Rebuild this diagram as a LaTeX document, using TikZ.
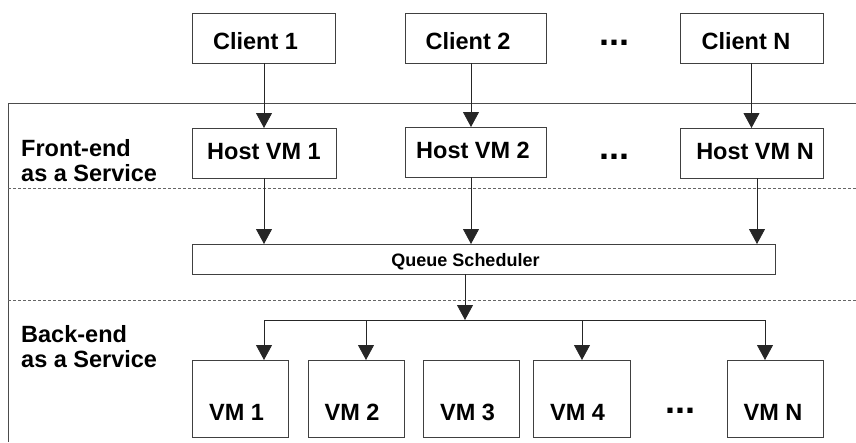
\documentclass[tikz,border=0pt]{standalone}
\usepackage{fontspec}
\setmainfont{Liberation Sans}
\usetikzlibrary{arrows.meta}
\begin{document}
\begin{tikzpicture}[x=1pt,y=-1pt,
  box/.style={draw=black!75, line width=0.9pt, inner sep=0pt, outer sep=0pt,
    font=\fontsize{23.5}{24}\selectfont\bfseries, align=center},
  arr/.style={draw=black!85, line width=0.8pt, arrows={-Triangle[width=16pt,length=15pt]}},
  wire/.style={draw=black!85, line width=0.8pt},
  frame/.style={draw=black!70, line width=0.9pt},
  sep/.style={draw=black!60, line width=0.8pt, dash pattern=on 3pt off 2pt},
  lbl/.style={font=\fontsize{23.5}{24.5}\selectfont\bfseries, align=left, anchor=base west, inner sep=0pt},
  dots/.style={font=\fontsize{36}{36}\selectfont\bfseries, anchor=base, inner sep=0pt}]
\useasboundingbox (0,0) rectangle (856,442);

% frame and separators
\coordinate (ftl) at (8,103);
\coordinate (ftr) at (856,103);
\coordinate (fbl) at (8,442);
\draw[frame] (ftr) -- (ftl) -- (fbl);
\coordinate (s1l) at (8,188);
\coordinate (s1r) at (856,188);
\coordinate (s2l) at (8,300);
\coordinate (s2r) at (856,300);
\draw[sep] (s1l) -- (s1r);
\draw[sep] (s2l) -- (s2r);

% clients
\node[box, minimum width=143pt, minimum height=50pt, text height=22pt, text depth=0pt] (c1) at (264,38) {Client 1\hspace*{17pt}};
\node[box, minimum width=141pt, minimum height=50pt, text height=22pt, text depth=0pt] (c2) at (475.5,38) {Client 2\hspace*{15pt}};
\node[box, minimum width=143pt, minimum height=50pt, text height=22pt, text depth=0pt] (cN) at (751.5,38) {Client N\hspace*{11pt}};
\node[dots] (d1) at (614,45) {...};

% hosts
\node[box, minimum width=144pt, minimum height=50pt, text height=17pt, text depth=5pt] (h1) at (264,153) {Host VM 1};
\node[box, minimum width=141pt, minimum height=50pt, text height=17pt, text depth=5pt] (h2) at (475.5,152) {Host VM 2\hspace*{5pt}};
\node[box, minimum width=143pt, minimum height=50pt, text height=17pt, text depth=5pt] (hN) at (751.5,153) {\hspace*{7pt}Host VM N};
\node[dots] (d2) at (614,159) {...};

% labels (anchor base = baseline of last line)
\node[lbl] (fe) at (21,181) {Front-end\\as a Service};
\node[lbl] (be) at (21,367) {Back-end\\as a Service};

% queue
\node[box, minimum width=583pt, minimum height=30pt, text height=14pt, text depth=0pt,
  font=\fontsize{18}{18}\selectfont\bfseries] (q) at (483.5,259) {Queue Scheduler\hspace*{36pt}};

% VMs
\node[box, minimum width=96pt, minimum height=77pt, text height=43pt, text depth=0pt] (v1) at (240,398.5) {VM 1\hspace*{7pt}};
\node[box, minimum width=96pt, minimum height=77pt, text height=43pt, text depth=0pt] (v2) at (356,398.5) {VM 2\hspace*{8pt}};
\node[box, minimum width=96pt, minimum height=77pt, text height=43pt, text depth=0pt] (v3) at (471,398.5) {VM 3\hspace*{7pt}};
\node[box, minimum width=97pt, minimum height=77pt, text height=43pt, text depth=0pt] (v4) at (581.5,398.5) {VM 4\hspace*{8pt}};
\node[box, minimum width=96pt, minimum height=77pt, text height=43pt, text depth=0pt] (vN) at (775,398.5) {VM N\hspace*{4pt}};
\node[dots] (d3) at (680,413) {...};

% client -> host
\draw[arr] (c1.south) -- (c1.south |- h1.north);
\draw[arr] ([xshift=-4.5pt]c2.south) -- ([xshift=-4.5pt]c2.south |- h2.north);
\draw[arr] (cN.south) -- (cN.south |- hN.north);

% host -> queue
\draw[arr] (h1.south) -- (h1.south |- q.north);
\draw[arr] ([xshift=-4.5pt]h2.south) -- ([xshift=-4.5pt]h2.south |- q.north);
\draw[arr] ([xshift=5.5pt]hN.south) -- ([xshift=5.5pt]hN.south |- q.north);

% queue -> branch
\coordinate (br) at (465,320);
\coordinate (b1) at (264,320);
\coordinate (b2) at (366,320);
\coordinate (b4) at (582,320);
\coordinate (bN) at (765,320);
\draw[arr] (br |- q.south) -- (br);
\draw[wire] (b1) -- (bN);
\draw[arr] (b1) -- (b1 |- v1.north);
\draw[arr] (b2) -- (b2 |- v2.north);
\draw[arr] (b4) -- (b4 |- v4.north);
\draw[arr] (bN) -- (bN |- vN.north);
\end{tikzpicture}
\end{document}
